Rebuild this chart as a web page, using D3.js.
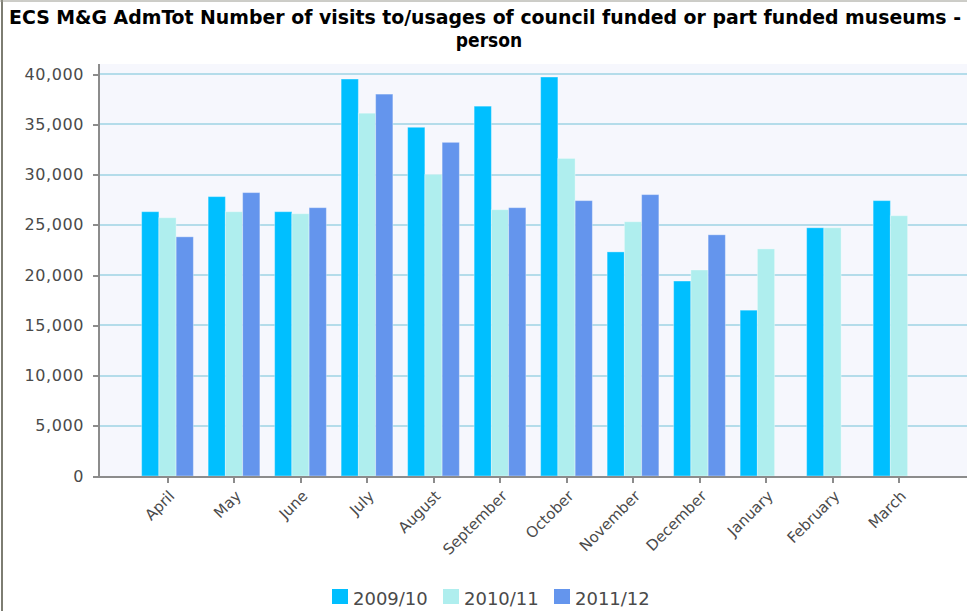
<!DOCTYPE html>
<html>
<head>
<meta charset="utf-8">
<title>ECS M&amp;G AdmTot</title>
<style>
  body { margin: 0; background: #fff; }
  .axis path, .axis line { fill: none; stroke: #8c8c8c; stroke-width: 2px; shape-rendering: crispEdges; }
  .y.axis text { font-family: "DejaVu Sans", sans-serif; font-size: 16px; fill: #4a4a4a; letter-spacing: 0.6px; }
  .x.axis text { font-family: "DejaVu Sans", sans-serif; font-size: 15px; fill: #4a4a4a; }
  .grid line { stroke: #b4dcea; stroke-width: 2px; shape-rendering: crispEdges; }
  .title { font-family: "DejaVu Sans Condensed", "DejaVu Sans", sans-serif; font-weight: bold; font-stretch: condensed; font-size: 19px; fill: #000; }
  .legend text { font-family: "DejaVu Sans", sans-serif; font-size: 18px; fill: #4a4a4a; }
</style>
</head>
<body>
<svg id="chart" width="967" height="611"></svg>
<script src="https://cdnjs.cloudflare.com/ajax/libs/d3/7.8.5/d3.min.js"></script>
<script>
// data
var months = ['April', 'May', 'June', 'July', 'August', 'September', 'October',
              'November', 'December', 'January', 'February', 'March'];
var seriesNames = ['2009/10', '2010/11', '2011/12'];
var v0910 = [26300, 27800, 26300, 39500, 34700, 36800, 39700, 22300, 19400, 16500, 24700, 27400];
var v1011 = [25700, 26300, 26100, 36100, 30000, 26500, 31600, 25300, 20500, 22600, 24700, 25900];
var v1112 = [23800, 28200, 26700, 38000, 33200, 26700, 27400, 28000, 24000, null, null, null];
var yTicks = [0, 5000, 10000, 15000, 20000, 25000, 30000, 35000, 40000];
var colors = ['#00bfff', '#afeeee', '#6495ed'];

var values = [v0910, v1011, v1112];

var svg = d3.select('#chart');

// frame
svg.append('line').attr('x1', 2).attr('x2', 2).attr('y1', 0).attr('y2', 611)
   .attr('stroke', '#7d7d72').attr('stroke-width', 2);
svg.append('line').attr('x1', 0).attr('x2', 967).attr('y1', 1).attr('y2', 1)
   .attr('stroke', '#9a9a90').attr('stroke-width', 1);

// title
svg.append('text').attr('class', 'title')
   .attr('x', 485).attr('y', 24).attr('text-anchor', 'middle')
   .attr('textLength', 952).attr('lengthAdjust', 'spacingAndGlyphs')
   .text('ECS M&G AdmTot Number of visits to/usages of council funded or part funded museums -');
svg.append('text').attr('class', 'title')
   .attr('x', 489).attr('y', 47).attr('text-anchor', 'middle')
   .text('person');

// scales
var plotLeft = 99, plotRight = 967, plotTop = 64, plotBottom = 476;
var x0 = d3.scaleBand().domain(months).range([134.25, 932.25]).paddingInner(0.222).paddingOuter(0.111);
var x1 = d3.scaleBand().domain(seriesNames).range([0, x0.bandwidth()]);
var y = d3.scaleLinear().domain([0, 40000]).range([plotBottom, 74]);

// plot background
svg.append('rect').attr('x', plotLeft).attr('y', plotTop)
   .attr('width', plotRight - plotLeft).attr('height', plotBottom - plotTop)
   .attr('fill', '#f6f7fd');

// grid
svg.append('g').attr('class', 'grid')
   .selectAll('line').data(yTicks.filter(d => d > 0)).join('line')
   .attr('x1', plotLeft).attr('x2', plotRight)
   .attr('y1', d => Math.round(y(d))).attr('y2', d => Math.round(y(d)));

// bars
var groups = svg.append('g').selectAll('g').data(months).join('g')
   .attr('transform', d => 'translate(' + x0(d) + ',0)');
groups.selectAll('rect')
   .data((m, i) => seriesNames.map((s, k) => ({ s: s, k: k, v: values[k][i] })).filter(d => d.v != null))
   .join('rect')
   .attr('x', d => x1(d.s))
   .attr('width', x1.bandwidth())
   .attr('y', d => y(d.v))
   .attr('height', d => y(0) - y(d.v))
   .attr('fill', d => colors[d.k])
   .attr('stroke', 'rgba(255,255,255,0.35)')
   .attr('stroke-width', 1);

// axes
var yAxis = d3.axisLeft(y).tickValues(yTicks).tickSize(6).tickPadding(9)
   .tickFormat(d3.format(','));
svg.append('g').attr('class', 'y axis')
   .attr('transform', 'translate(' + plotLeft + ',0)')
   .call(yAxis)
   .call(g => g.select('.domain').attr('d', 'M0,' + plotTop + 'V' + (plotBottom + 1)));

var xAxis = d3.axisBottom(x0).tickSize(6).tickSizeOuter(0);
var xg = svg.append('g').attr('class', 'x axis')
   .attr('transform', 'translate(0,' + (plotBottom + 1) + ')')
   .call(xAxis)
   .call(g => g.select('.domain').attr('d', 'M' + plotLeft + ',0H' + plotRight));
xg.selectAll('text')
   .attr('text-anchor', 'end')
   .attr('dy', null)
   .attr('y', null)
   .attr('transform', 'translate(8,20) rotate(-45)');

// legend
var legendX = [332, 443, 554];
var legend = svg.append('g').attr('class', 'legend').selectAll('g')
   .data(seriesNames).join('g')
   .attr('transform', (d, i) => 'translate(' + legendX[i] + ',589)');
legend.append('rect').attr('width', 16).attr('height', 15)
   .attr('fill', (d, i) => colors[i]);
legend.append('text').attr('x', 21).attr('y', 15.5).text(d => d);
</script>
</body>
</html>
